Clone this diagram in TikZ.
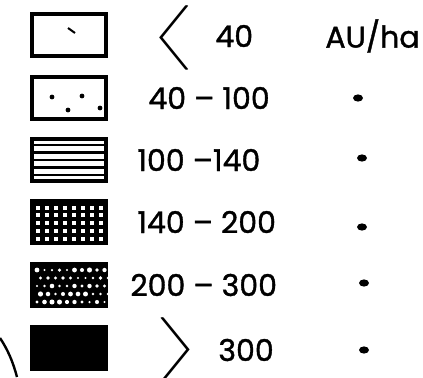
\documentclass[tikz,border=0pt]{standalone}
\usepackage{fontspec}
\setmainfont{Poppins}[FakeBold=1.2]
\usepackage{graphicx}
\usetikzlibrary{positioning,shapes.geometric}

\newcommand{\chevbox}[1]{\raisebox{0pt}[14pt][9pt]{$\vcenter{\hbox{\resizebox*{24pt}{35pt}{$#1$}}}$}}

\begin{document}
\begin{tikzpicture}[
    x=0.5pt, y=-0.5pt,
    key/.style={draw=black, line width=2pt, minimum width=37pt, minimum height=21pt, inner sep=0pt},
    val/.style={anchor=west, inner sep=0pt, font=\fontsize{15}{18}\selectfont},
    chev/.style={inner sep=0pt},
    ditto/.style={ellipse, fill=black, minimum width=5pt, minimum height=3.6pt, inner sep=0pt},
  ]
  \useasboundingbox (0,0) rectangle (423,377);

  % Key boxes
  \node[key] (k1) at (69,35) {};
  \node[key] (k2) at (69,98) {};
  \node[key] (k3) at (69,159.5) {};
  \node[key, fill=black] (k4) at (69,221.5) {};
  \node[key, fill=black] (k5) at (69,285) {};
  \node[key, fill=black] (k6) at (69,348) {};

  % Box 1: a single tick
  \draw[line width=1pt] (68,28) -- (75,33);

  % Box 2: scattered dots
  \foreach \p in {(52,97),(82,96),(68,110),(100,108)}
    \fill \p circle (2.4);

  % Box 3: horizontal rules
  \foreach \y in {145,152.5,160,167.5,175}
    \draw[line width=1.3pt] (33,\y) -- (105,\y);

  % Box 4: white grid cells
  \foreach \i in {0,...,7}
    \foreach \j in {0,...,4}
      \fill[white] ({35.5+\i*9},{205.5+\j*7.8}) rectangle ++(4.8,4);

  % Box 5: random white dots
  \pgfmathsetseed{7}
  \foreach \j in {0,...,4}
    \foreach \i in {0,...,9}{
      \pgfmathsetmacro{\r}{1+rnd*1.6}
      \fill[white] ({37+\i*7.5+mod(\j,2)*3.5},{270+\j*8}) circle (\r);
    }

  % Values
  \node[chev] (lt) at (177,35) {\chevbox{\left\langle\rule{0pt}{20pt}\right.}};
  \node[val] (v1) at (215,36) {40};
  \node[val] (unit) at (325,36) {AU/ha};
  \node[val] (v2) at (148,98) {40 -- 100};
  \node[val] (v3) at (137,160) {100 --140};
  \node[val] (v4) at (137,222) {140 -- 200};
  \node[val] (v5) at (130,285) {200 -- 300};
  \node[chev] (gt) at (173,347) {\chevbox{\left.\rule{0pt}{20pt}\right\rangle}};
  \node[val] (v6) at (218,350) {300};

  % Ditto marks
  \node[ditto] (d2) at (358,98) {};
  \node[ditto] (d3) at (362,158) {};
  \node[ditto] (d4) at (362,227) {};
  \node[ditto] (d5) at (364,283) {};
  \node[ditto] (d6) at (364,350) {};

  % Map edge, bottom left
  \draw[line width=1.2pt] (0,338) .. controls (8,350) and (13,362) .. (17,377);
\end{tikzpicture}
\end{document}
